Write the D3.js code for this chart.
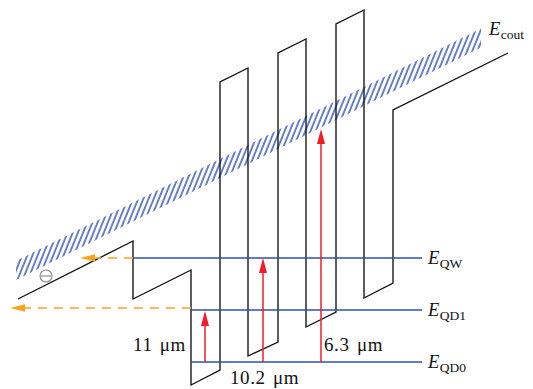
<!DOCTYPE html>
<html>
<head>
<meta charset="utf-8">
<script src="https://cdn.jsdelivr.net/npm/d3@7"></script>
<style>
  body { margin: 0; background: #fff; }
  text { font-family: "Liberation Serif", "DejaVu Serif", serif; fill: #111; }
</style>
</head>
<body>
<svg width="533" height="389"></svg>
<script>
// position in nm, energy in meV
const profileX = [0, 23, 23, 34.6, 34.6, 40.4, 40.4, 46, 46, 52, 52, 57.6, 57.6, 63.6, 63.6, 69.2, 69.2, 75, 75, 98];
const profileE = [172, 288, 172, 230, 0, 30, 606, 634, 58, 86, 664, 692, 116, 146, 722, 750, 174, 204, 550, 664];

const levelNames = ['QW', 'QD1', 'QD0'];
const levelE = [254, 150, 46];
const levelStart = [23, 34.6, 34.6];
const levelEnd = [80.8, 80.8, 80.8];

const transitionLabels = ['11 μm', '10.2 μm', '6.3 μm'];
const transitionX = [37.4, 49, 60.6];
const transitionFrom = [46, 46, 46];
const transitionTo = [148, 254, 512];

const escapeFrom = [23, 34.6];
const escapeTo = [12.4, -1.6];
const escapeE = [254, 154];

const bandX = [-0.4, 92.6];
const bandE = [229, 694];
const bandWidthE = 38;

const electronX = 5.6;
const electronE = 218;

const svg = d3.select('svg');

const xScale = d3.scaleLinear().domain([0, 98]).range([18, 508]);
const yScale = d3.scaleLinear().domain([0, 750]).range([385, 10]);

const blue = '#2f4fb3';
const red = '#f01c28';
const orange = '#f5a422';

// hatched continuum band
const defs = svg.append('defs');
const pat = defs.append('pattern')
  .attr('id', 'hatch')
  .attr('patternUnits', 'userSpaceOnUse')
  .attr('width', 4.8)
  .attr('height', 10)
  .attr('patternTransform', 'rotate(22)');
pat.append('line')
  .attr('x1', 1).attr('y1', -1)
  .attr('x2', 1).attr('y2', 11)
  .attr('stroke', '#2546ad')
  .attr('stroke-width', 1.35);

const bandPts = [
  [xScale(bandX[0]), yScale(bandE[0] + bandWidthE / 2)],
  [xScale(bandX[1]), yScale(bandE[1] + bandWidthE / 2)],
  [xScale(bandX[1]), yScale(bandE[1] - bandWidthE / 2)],
  [xScale(bandX[0]), yScale(bandE[0] - bandWidthE / 2)]
];
svg.append('polygon')
  .attr('points', bandPts.map(p => p.join(',')).join(' '))
  .attr('fill', 'url(#hatch)');

// conduction band profile
const profile = profileX.map((x, i) => [x, profileE[i]]);
svg.append('path')
  .datum(profile)
  .attr('d', d3.line().x(d => xScale(d[0])).y(d => yScale(d[1])))
  .attr('fill', 'none')
  .attr('stroke', '#111')
  .attr('stroke-width', 1.35)
  .attr('stroke-linejoin', 'miter');

// energy levels
levelNames.forEach((name, i) => {
  const y = yScale(levelE[i]);
  svg.append('line')
    .attr('x1', xScale(levelStart[i])).attr('x2', xScale(levelEnd[i]))
    .attr('y1', y).attr('y2', y)
    .attr('stroke', blue)
    .attr('stroke-width', 1.3);
  const t = svg.append('text')
    .attr('x', xScale(levelEnd[i]) + 6)
    .attr('y', y + 6)
    .attr('font-size', 18.5);
  t.append('tspan').attr('font-style', 'italic').text('E');
  t.append('tspan').attr('font-size', 13.5).attr('dy', 4).attr('dx', 0.5).text(name);
});

// E_cout label
const ec = svg.append('text')
  .attr('x', xScale(94.2))
  .attr('y', yScale(700))
  .attr('font-size', 18.5);
ec.append('tspan').attr('font-style', 'italic').text('E');
ec.append('tspan').attr('font-size', 13.5).attr('dy', 4).attr('dx', 0.5).text('cout');

// escape arrows (orange dashed)
escapeFrom.forEach((x0, i) => {
  const y = yScale(escapeE[i]);
  const tip = xScale(escapeTo[i]);
  svg.append('line')
    .attr('x1', xScale(x0)).attr('x2', tip + 12)
    .attr('y1', y).attr('y2', y)
    .attr('stroke', orange)
    .attr('stroke-width', 1.6)
    .attr('stroke-dasharray', '9,7');
  svg.append('path')
    .attr('d', `M${tip},${y}L${tip + 15},${y - 3.8}L${tip + 15},${y + 3.8}Z`)
    .attr('fill', orange);
});

// electron
const ex = xScale(electronX), ey = yScale(electronE);
svg.append('circle')
  .attr('cx', ex).attr('cy', ey).attr('r', 6)
  .attr('fill', 'rgba(255,255,255,0.85)')
  .attr('stroke', '#888')
  .attr('stroke-width', 1.1);
svg.append('line')
  .attr('x1', ex - 5).attr('x2', ex + 5)
  .attr('y1', ey).attr('y2', ey)
  .attr('stroke', '#888')
  .attr('stroke-width', 1.1);

// optical transitions (red arrows)
transitionX.forEach((x, i) => {
  const px = xScale(x);
  const y0 = yScale(transitionFrom[i]);
  const y1 = yScale(transitionTo[i]);
  svg.append('line')
    .attr('x1', px).attr('x2', px)
    .attr('y1', y0).attr('y2', y1 + 10)
    .attr('stroke', red)
    .attr('stroke-width', 1.5);
  svg.append('path')
    .attr('d', `M${px},${y1}L${px - 4},${y1 + 15}L${px + 4},${y1 + 15}Z`)
    .attr('fill', red);
});

const labelStyle = t => t
  .attr('font-size', 19)
  .attr('letter-spacing', 0.6)
  .attr('word-spacing', 2);

labelStyle(svg.append('text'))
  .attr('x', xScale(transitionX[0]) - 19)
  .attr('y', yScale(transitionFrom[0]) - 11)
  .attr('text-anchor', 'end')
  .text(transitionLabels[0]);
labelStyle(svg.append('text'))
  .attr('x', xScale(transitionX[1]) - 33)
  .attr('y', yScale(transitionFrom[1]) + 22)
  .text(transitionLabels[1]);
labelStyle(svg.append('text'))
  .attr('x', xScale(transitionX[2]) + 3)
  .attr('y', yScale(transitionFrom[2]) - 11)
  .text(transitionLabels[2]);
</script>
</body>
</html>
